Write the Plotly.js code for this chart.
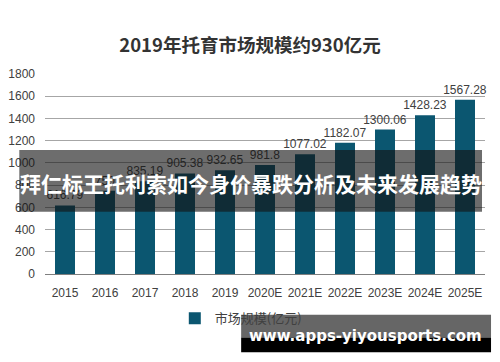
<!DOCTYPE html>
<html>
<head>
<meta charset="utf-8">
<script src="https://cdn.plot.ly/plotly-3.0.1.min.js"></script>
<style>html,body{margin:0;padding:0;background:#fff;}#chart{width:500px;height:362px;}</style>
</head>
<body>
<div id="chart"></div>
<script>
var categories = ["2015","2016","2017","2018","2019","2020E","2021E","2022E","2023E","2024E","2025E"];
var marketSize = [616.79, 750.0, 835.19, 905.38, 932.65, 981.8, 1077.02, 1182.07, 1300.06, 1428.23, 1567.28];
var valueLabels = ["616.79", "750", "835.19", "905.38", "932.65", "981.8", "1077.02", "1182.07", "1300.06", "1428.23", "1567.28"];
var yTicks = [0, 200, 400, 600, 800, 1000, 1200, 1400, 1600, 1800];
var seriesName = "市场规模(亿元)";
var chartTitle = "2019年托育市场规模约930亿元";
var overlayText = "拜仁标王托利索如今身价暴跌分析及未来发展趋势";
var watermarkText = "www.apps-yiyousports.com";

var trace = {
  type: "bar",
  x: categories,
  y: marketSize,
  name: seriesName,
  text: valueLabels,
  textposition: "outside",
  constraintext: "none",
  cliponaxis: false,
  textfont: {family: "Liberation Sans, Arial, sans-serif", size: 12, color: "#404040"},
  marker: {color: "#0b5670"},
  showlegend: true
};

var layout = {
  width: 500, height: 362,
  margin: {l: 45, r: 15, t: 74, b: 88},
  paper_bgcolor: "#ffffff",
  plot_bgcolor: "#ffffff",
  bargap: 0.5,
  title: {
    text: chartTitle,
    font: {family: "Noto Sans CJK SC, sans-serif", size: 18.5, color: "#333333", weight: "bold"},
    x: 0.5, xanchor: "center", y: 0.875, yanchor: "middle"
  },
  xaxis: {
    type: "category",
    tickfont: {family: "Liberation Sans, Arial, sans-serif", size: 12, color: "#404040"},
    showline: true, linecolor: "#7f7f7f", linewidth: 1,
    ticks: "", showgrid: false, fixedrange: true,
    ticklabelstandoff: 8
  },
  yaxis: {
    range: [0, 1800],
    tickvals: yTicks,
    ticktext: yTicks.map(String),
    tickfont: {family: "Liberation Sans, Arial, sans-serif", size: 12, color: "#404040"},
    showgrid: true, gridcolor: "#a6a6a6", gridwidth: 1,
    zeroline: false, showline: false, ticks: "", ticklen: 0,
    ticklabelstandoff: 9,
    automargin: false
  },
  legend: {
    orientation: "h",
    x: 0.445, xanchor: "center",
    y: -0.222, yanchor: "middle",
    itemwidth: 30,
    font: {family: "Noto Sans CJK SC, sans-serif", size: 13, color: "#404040"},
    bgcolor: "rgba(0,0,0,0)"
  },
  shapes: [
    {type: "rect", xref: "paper", yref: "paper", x0: -0.0584, x1: 0.9932, y0: 0.311, y1: 0.6206,
     fillcolor: "rgba(20,20,20,0.62)", line: {width: 0}, layer: "above"},
    {type: "rect", xref: "paper", yref: "paper", x0: 0.4458, x1: 1.0137, y0: -0.318, y1: -0.2032,
     fillcolor: "#666666", line: {width: 0}, layer: "above"},
    {type: "rect", xref: "paper", yref: "paper", x0: 0.4458, x1: 1.0137, y0: -0.3914, y1: -0.318,
     fillcolor: "#000000", line: {width: 0}, layer: "above"}
  ],
  annotations: [
    {xref: "paper", yref: "paper", x: 0.4675, y: 0.456, xanchor: "center", yanchor: "middle",
     text: "<b>" + overlayText + "</b>", showarrow: false,
     font: {family: "Noto Sans CJK SC, sans-serif", size: 21, color: "#ffffff"}},
    {xref: "paper", yref: "paper", x: 0.7295, y: -0.312, xanchor: "center", yanchor: "middle",
     text: "<b>" + watermarkText + "</b>", showarrow: false,
     font: {family: "DejaVu Sans, sans-serif", size: 15, color: "#ffffff"}}
  ]
};

Plotly.newPlot("chart", [trace], layout, {displayModeBar: false, staticPlot: true});
</script>
</body>
</html>
